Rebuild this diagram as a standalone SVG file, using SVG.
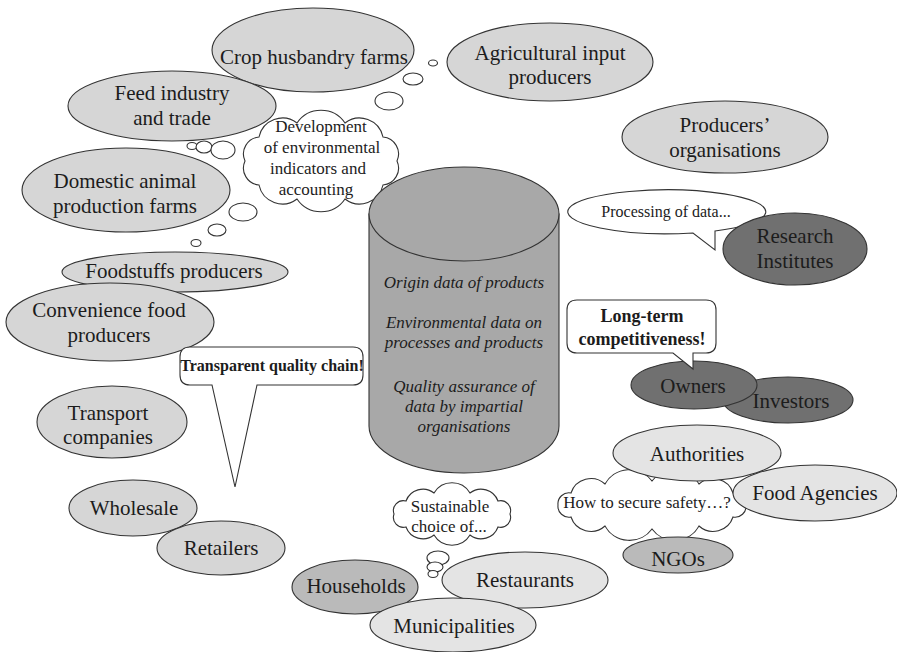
<svg xmlns="http://www.w3.org/2000/svg" width="897" height="652" viewBox="0 0 897 652">
  <style>
    text { font-family: "Liberation Serif", "Times New Roman", serif; fill: #1c1c1c; text-anchor: middle; }
    .lbl { font-size: 21px; }
    .sm { font-size: 17px; }
    .xs { font-size: 16px; }
    .it { font-size: 17px; font-style: italic; }
    .bd { font-weight: bold; }
    .light { fill: #d6d6d6; stroke: #333; stroke-width: 1.1; }
    .pale { fill: #e4e4e4; stroke: #333; stroke-width: 1.1; }
    .mid { fill: #bababa; stroke: #333; stroke-width: 1.1; }
    .dark { fill: #707070; stroke: #333; stroke-width: 1.1; }
    .db { fill: #a8a8a8; stroke: #333; stroke-width: 1.1; }
    .white { fill: #ffffff; stroke: #333; stroke-width: 1.1; }
  </style>
  <rect width="897" height="652" fill="#ffffff"/>

  <!-- thought bubbles and call-out pointers -->
  <g id="connectors">
    <ellipse class="white" cx="433" cy="63" rx="4.5" ry="3"/>
    <ellipse class="white" cx="413" cy="79" rx="10" ry="6"/>
    <ellipse class="white" cx="389" cy="101" rx="14" ry="9"/>
    <ellipse class="white" cx="192" cy="146" rx="5" ry="3.5"/>
    <ellipse class="white" cx="204" cy="147" rx="8" ry="6"/>
    <ellipse class="white" cx="223" cy="150" rx="12" ry="9"/>
    <ellipse class="white" cx="243" cy="212" rx="14" ry="9"/>
    <ellipse class="white" cx="217" cy="230" rx="9" ry="6"/>
    <ellipse class="white" cx="196" cy="243" rx="5" ry="3.5"/>
    <ellipse class="white" cx="438" cy="558" rx="11" ry="7"/>
    <ellipse class="white" cx="435" cy="567" rx="8" ry="5"/>
    <ellipse class="white" cx="433" cy="574" rx="5" ry="3.5"/>
  </g>

  <g id="crop-husbandry">
    <ellipse class="light" cx="313" cy="50" rx="101" ry="42"/>
    <text class="lbl" x="314" y="64">Crop husbandry farms</text>
  </g>
  <g id="feed-industry">
    <ellipse class="light" cx="172" cy="106" rx="104" ry="35"/>
    <text class="lbl" x="172" y="100">Feed industry</text>
    <text class="lbl" x="172" y="125">and trade</text>
  </g>
  <g id="domestic-animal">
    <ellipse class="light" cx="126" cy="190" rx="104" ry="42"/>
    <text class="lbl" x="125" y="188">Domestic animal</text>
    <text class="lbl" x="125" y="213">production farms</text>
  </g>
  <g id="agricultural-input">
    <ellipse class="light" cx="550" cy="62" rx="103" ry="39"/>
    <text class="lbl" x="550" y="60">Agricultural input</text>
    <text class="lbl" x="550" y="84">producers</text>
  </g>
  <g id="producers-organisations">
    <ellipse class="light" cx="725" cy="137" rx="103" ry="36"/>
    <text class="lbl" x="725" y="132">Producers’</text>
    <text class="lbl" x="725" y="157">organisations</text>
  </g>

  <g id="development-cloud">
    <path class="white" d="M397,161 A17,17 0 0 1 383,185 A24,24 0 0 1 345,199 A29,29 0 0 1 297,199 A24,24 0 0 1 259,185 A17,17 0 0 1 245,161 A17,17 0 0 1 259,137 A24,24 0 0 1 297,123 A29,29 0 0 1 345,123 A24,24 0 0 1 383,137 A17,17 0 0 1 397,161 Z"/>
    <text class="sm" x="321" y="132">Development</text>
    <text class="sm" x="322" y="153">of environmental</text>
    <text class="sm" x="318" y="174">indicators and</text>
    <text class="sm" x="316" y="195">accounting</text>
  </g>

  <g id="database">
    <path class="db" d="M369,214 V426 A95,47 0 0 0 559,426 V214 Z"/>
    <ellipse class="db" cx="464" cy="214" rx="95" ry="47"/>
    <text class="it" x="464" y="288">Origin data of products</text>
    <text class="it" x="464" y="328">Environmental  data on</text>
    <text class="it" x="464" y="348">processes and products</text>
    <text class="it" x="464" y="392">Quality assurance of</text>
    <text class="it" x="464" y="412">data by impartial</text>
    <text class="it" x="464" y="432">organisations</text>
  </g>

  <g id="processing-callout">
    <path class="white" d="M715,231 A99,22 0 1 0 693,233 L715,250 Z"/>
    <text class="xs" x="666" y="217">Processing of data...</text>
  </g>
  <g id="research-institutes">
    <ellipse class="dark" cx="795" cy="249" rx="72" ry="36"/>
    <text class="lbl" x="795" y="243">Research</text>
    <text class="lbl" x="795" y="268">Institutes</text>
  </g>

  <g id="foodstuffs">
    <ellipse class="light" cx="175" cy="272" rx="113" ry="20"/>
    <text class="lbl" x="174" y="278">Foodstuffs producers</text>
  </g>
  <g id="convenience-food">
    <ellipse class="light" cx="110" cy="322" rx="104" ry="39"/>
    <text class="lbl" x="109" y="317">Convenience food</text>
    <text class="lbl" x="109" y="342">producers</text>
  </g>

  <g id="quality-chain-callout">
    <path class="white" d="M190,347 H353 Q363,347 363,357 V375 Q363,385 353,385 H257 L235,487 L212,385 H190 Q180,385 180,375 V357 Q180,347 190,347 Z"/>
    <text class="bd" x="272" y="371" style="font-size:16px">Transparent quality chain!</text>
  </g>

  <g id="transport">
    <ellipse class="light" cx="112" cy="422" rx="75" ry="36"/>
    <text class="lbl" x="108" y="420">Transport</text>
    <text class="lbl" x="108" y="444">companies</text>
  </g>
  <g id="wholesale">
    <ellipse class="light" cx="133" cy="508" rx="64" ry="28"/>
    <text class="lbl" x="134" y="515">Wholesale</text>
  </g>
  <g id="retailers">
    <ellipse class="light" cx="221" cy="548" rx="64" ry="27"/>
    <text class="lbl" x="221" y="555">Retailers</text>
  </g>

  <g id="investors">
    <ellipse class="dark" cx="788" cy="400" rx="65" ry="23"/>
    <text class="lbl" x="791" y="408">Investors</text>
  </g>
  <g id="owners">
    <ellipse class="dark" cx="694" cy="385" rx="63" ry="24"/>
    <text class="lbl" x="693" y="393">Owners</text>
  </g>
  <g id="competitiveness-callout">
    <path class="white" d="M577,300 H706 Q716,300 716,310 V343 Q716,353 706,353 H693 L693,369 L673,353 H577 Q567,353 567,343 V310 Q567,300 577,300 Z"/>
    <text class="bd" x="642" y="322" style="font-size:18px">Long-term</text>
    <text class="bd" x="642" y="345" style="font-size:18px">competitiveness!</text>
  </g>

  <g id="safety-cloud">
    <path class="white" d="M746,505 A11,11 0 0 1 733,517 A21,21 0 0 1 699,526 A28,28 0 0 1 652,529 A28,28 0 0 1 605,526 A21,21 0 0 1 571,517 A11,11 0 0 1 558,505 A11,11 0 0 1 571,493 A21,21 0 0 1 605,484 A28,28 0 0 1 652,481 A28,28 0 0 1 699,484 A21,21 0 0 1 733,493 A11,11 0 0 1 746,505 Z"/>
    <text class="sm" x="647" y="508">How to secure safety…?</text>
  </g>
  <g id="authorities">
    <ellipse class="pale" cx="697" cy="453" rx="84" ry="28"/>
    <text class="lbl" x="697" y="461">Authorities</text>
  </g>
  <g id="food-agencies">
    <ellipse class="pale" cx="815" cy="493" rx="82" ry="28"/>
    <text class="lbl" x="815" y="500">Food Agencies</text>
  </g>
  <g id="ngos">
    <ellipse class="mid" cx="678" cy="555" rx="55" ry="18"/>
    <text class="lbl" x="678" y="566">NGOs</text>
  </g>

  <g id="sustainable-cloud">
    <path class="white" d="M510,514 A10,10 0 0 1 498,527 A18,18 0 0 1 470,535 A21,21 0 0 1 434,535 A18,18 0 0 1 406,527 A10,10 0 0 1 394,514 A10,10 0 0 1 406,501 A18,18 0 0 1 434,493 A21,21 0 0 1 470,493 A18,18 0 0 1 498,501 A10,10 0 0 1 510,514 Z"/>
    <text class="sm" x="450" y="512">Sustainable</text>
    <text class="sm" x="449" y="532">choice of...</text>
  </g>
  <g id="households">
    <ellipse class="mid" cx="355" cy="587" rx="63" ry="27"/>
    <text class="lbl" x="356" y="593">Households</text>
  </g>
  <g id="restaurants">
    <ellipse class="pale" cx="525" cy="580" rx="83" ry="28"/>
    <text class="lbl" x="525" y="587">Restaurants</text>
  </g>
  <g id="municipalities">
    <ellipse class="pale" cx="453" cy="625" rx="83" ry="27"/>
    <text class="lbl" x="454" y="633">Municipalities</text>
  </g>
</svg>
